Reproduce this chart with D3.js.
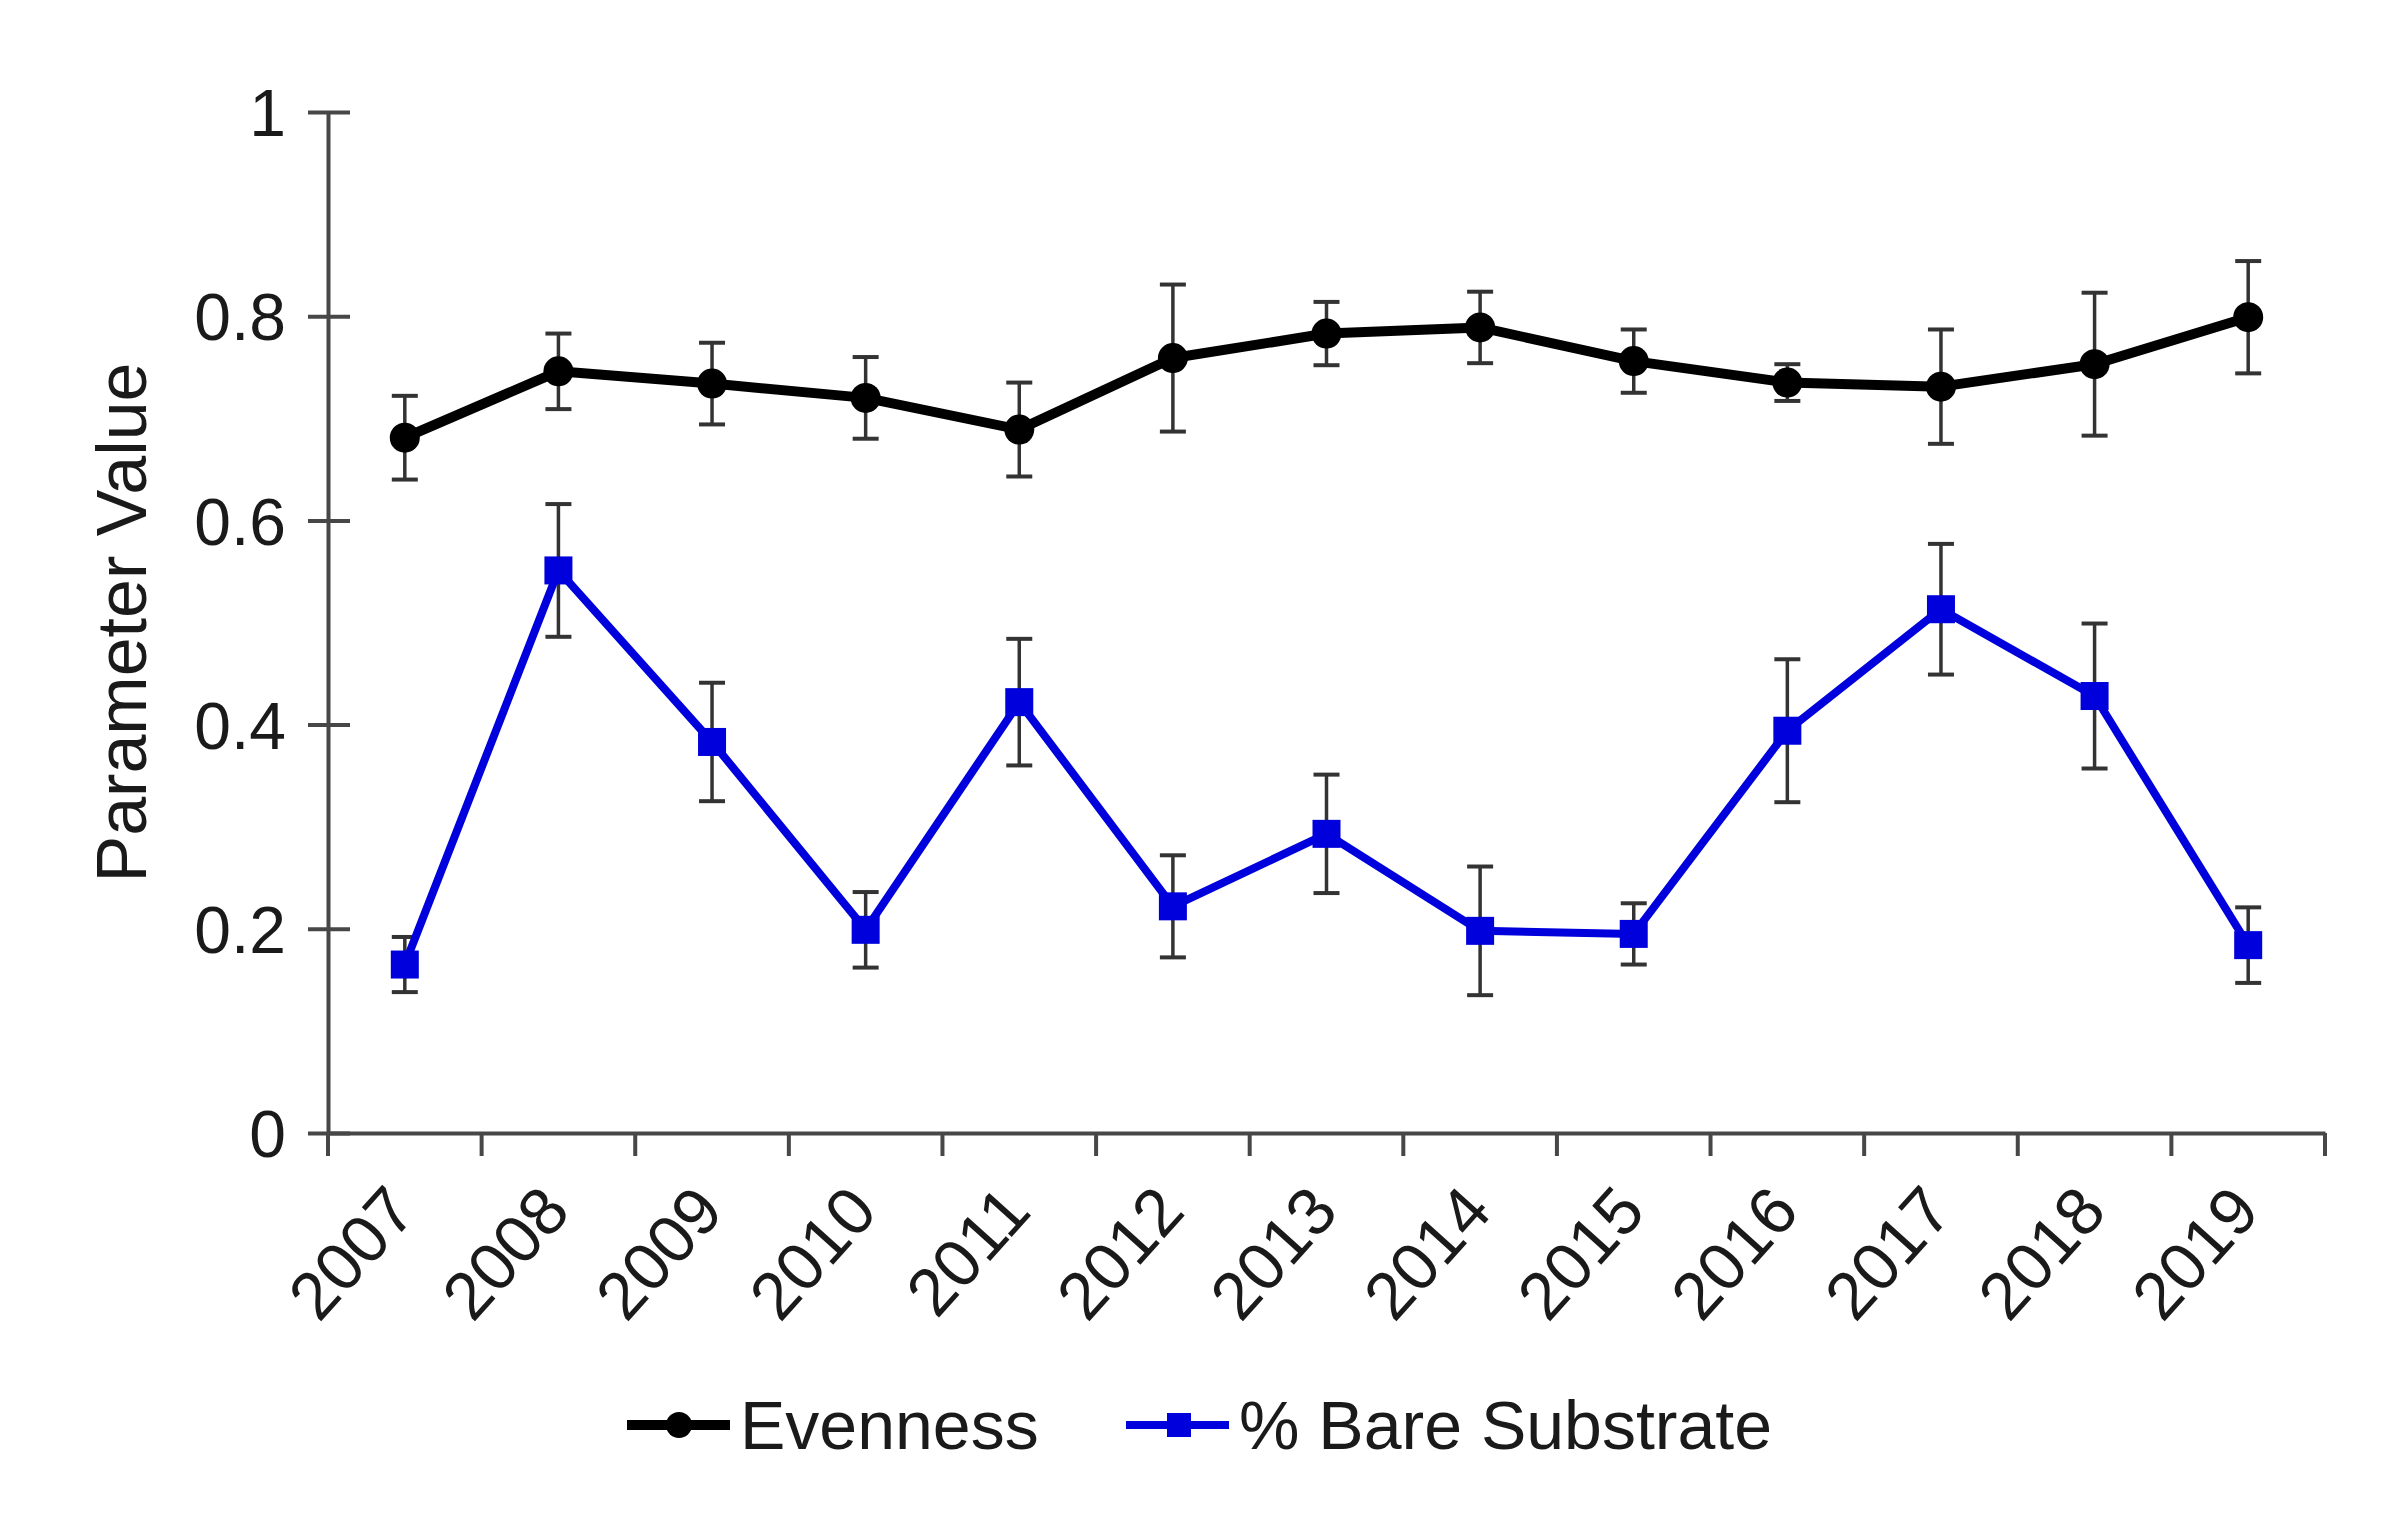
<!DOCTYPE html>
<html>
<head>
<meta charset="utf-8">
<script src="https://cdn.jsdelivr.net/npm/d3@7"></script>
<style>
  body { margin: 0; background: #fff; }
  text { font-family: "Liberation Sans", Arial, sans-serif; fill: #1a1a1a; }
</style>
</head>
<body>
<div id="chart"></div>
<script>
const years = ['2007','2008','2009','2010','2011','2012','2013','2014','2015','2016','2017','2018','2019'];
const evenness    = [0.681,0.746,0.734,0.720,0.689,0.759,0.783,0.789,0.756,0.735,0.731,0.753,0.799];
const evennessErr = [0.041,0.037,0.040,0.040,0.046,0.072,0.031,0.035,0.031,0.018,0.056,0.070,0.055];
const bare        = [0.165,0.551,0.383,0.199,0.422,0.222,0.293,0.198,0.195,0.394,0.513,0.428,0.184];
const bareErr     = [0.027,0.065,0.058,0.037,0.062,0.050,0.058,0.063,0.030,0.070,0.064,0.071,0.037];
const yTicks = [0, 0.2, 0.4, 0.6, 0.8, 1];

const W = 2395, H = 1519;
const m = {left: 328, right: 70, top: 112, bottom: 386};

const svg = d3.select('#chart').append('svg')
  .attr('width', W).attr('height', H);

const x = d3.scaleBand().domain(years).range([m.left, W - m.right]).padding(0);
const y = d3.scaleLinear().domain([0, 1]).range([H - m.bottom, m.top]);

const axisColor = '#474747';

// y axis
const yAxis = svg.append('g')
  .attr('transform', `translate(${m.left},0)`)
  .call(d3.axisLeft(y).tickValues(yTicks).tickFormat(d3.format('')).tickSizeInner(20).tickSizeOuter(0).tickPadding(22));
yAxis.select('.domain').attr('stroke', axisColor).attr('stroke-width', 4);
yAxis.selectAll('.tick line').attr('stroke', axisColor).attr('stroke-width', 4).attr('x2', 22).attr('x1', -20);
yAxis.selectAll('.tick text').style('font-size', '66px').attr('dy', '0.36em');

// x axis
const xAxis = svg.append('g')
  .attr('transform', `translate(0,${H - m.bottom})`)
  .call(d3.axisBottom(x).tickSize(0).tickPadding(0));
xAxis.select('.domain').attr('stroke', axisColor).attr('stroke-width', 4);
xAxis.selectAll('.tick text')
  .style('font-size', '67px')
  .attr('text-anchor', 'end')
  .attr('y', 0).attr('dy', 0)
  .attr('transform', 'translate(14,80) rotate(-48)');

// boundary ticks
const edges = years.map(d => x(d)).concat([x(years[years.length - 1]) + x.bandwidth()]);
svg.append('g').selectAll('line').data(edges).join('line')
  .attr('x1', d => d).attr('x2', d => d)
  .attr('y1', H - m.bottom).attr('y2', H - m.bottom + 23)
  .attr('stroke', axisColor).attr('stroke-width', 4);

// y axis title
svg.append('text')
  .attr('transform', `translate(121,${(y(0) + y(1)) / 2}) rotate(-90)`)
  .attr('text-anchor', 'middle')
  .attr('dy', '0.35em')
  .style('font-size', '70px')
  .text('Parameter Value');

const cx = (d, i) => x(years[i]) + x.bandwidth() / 2;

function drawSeries(vals, errs, color, shape) {
  const g = svg.append('g');
  // error bars
  const eb = g.append('g').selectAll('g').data(vals).join('g');
  eb.append('line')
    .attr('x1', cx).attr('x2', cx)
    .attr('y1', (d, i) => y(d - errs[i])).attr('y2', (d, i) => y(d + errs[i]))
    .attr('stroke', '#333').attr('stroke-width', 3.5);
  [1, -1].forEach(s => {
    eb.append('line')
      .attr('x1', (d, i) => cx(d, i) - 13).attr('x2', (d, i) => cx(d, i) + 13)
      .attr('y1', (d, i) => y(d + s * errs[i])).attr('y2', (d, i) => y(d + s * errs[i]))
      .attr('stroke', '#333').attr('stroke-width', 4);
  });
  // line
  g.append('path')
    .datum(vals)
    .attr('fill', 'none')
    .attr('stroke', color)
    .attr('stroke-width', shape === 'circle' ? 10 : 8)
    .attr('stroke-linejoin', 'round')
    .attr('d', d3.line().x(cx).y(d => y(d)));
  // markers
  if (shape === 'circle') {
    g.append('g').selectAll('circle').data(vals).join('circle')
      .attr('cx', cx).attr('cy', d => y(d)).attr('r', 15).attr('fill', color);
  } else {
    g.append('g').selectAll('rect').data(vals).join('rect')
      .attr('x', (d, i) => cx(d, i) - 14).attr('y', d => y(d) - 14)
      .attr('width', 28).attr('height', 28).attr('fill', color);
  }
}

drawSeries(bare, bareErr, '#0000dd', 'square');
drawSeries(evenness, evennessErr, '#000', 'circle');

// legend
const legendItems = [
  {label: 'Evenness', color: '#000', shape: 'circle', x0: 627},
  {label: '% Bare Substrate', color: '#0000dd', shape: 'square', x0: 1126}
];
const ly = 1425;
const lg = svg.append('g').selectAll('g').data(legendItems).join('g')
  .attr('transform', d => `translate(${d.x0},${ly})`);
lg.append('line').attr('x1', 0).attr('x2', 103).attr('y1', 0).attr('y2', 0)
  .attr('stroke', d => d.color).attr('stroke-width', d => d.shape === 'circle' ? 10 : 8);
lg.filter(d => d.shape === 'circle').append('circle')
  .attr('cx', 52).attr('cy', 0).attr('r', 13).attr('fill', d => d.color);
lg.filter(d => d.shape === 'square').append('rect')
  .attr('x', 41).attr('y', -12).attr('width', 24).attr('height', 24).attr('fill', d => d.color);
lg.append('text').attr('x', 113).attr('y', 0).attr('dy', '0.36em')
  .style('font-size', '68px').text(d => d.label);
</script>
</body>
</html>
